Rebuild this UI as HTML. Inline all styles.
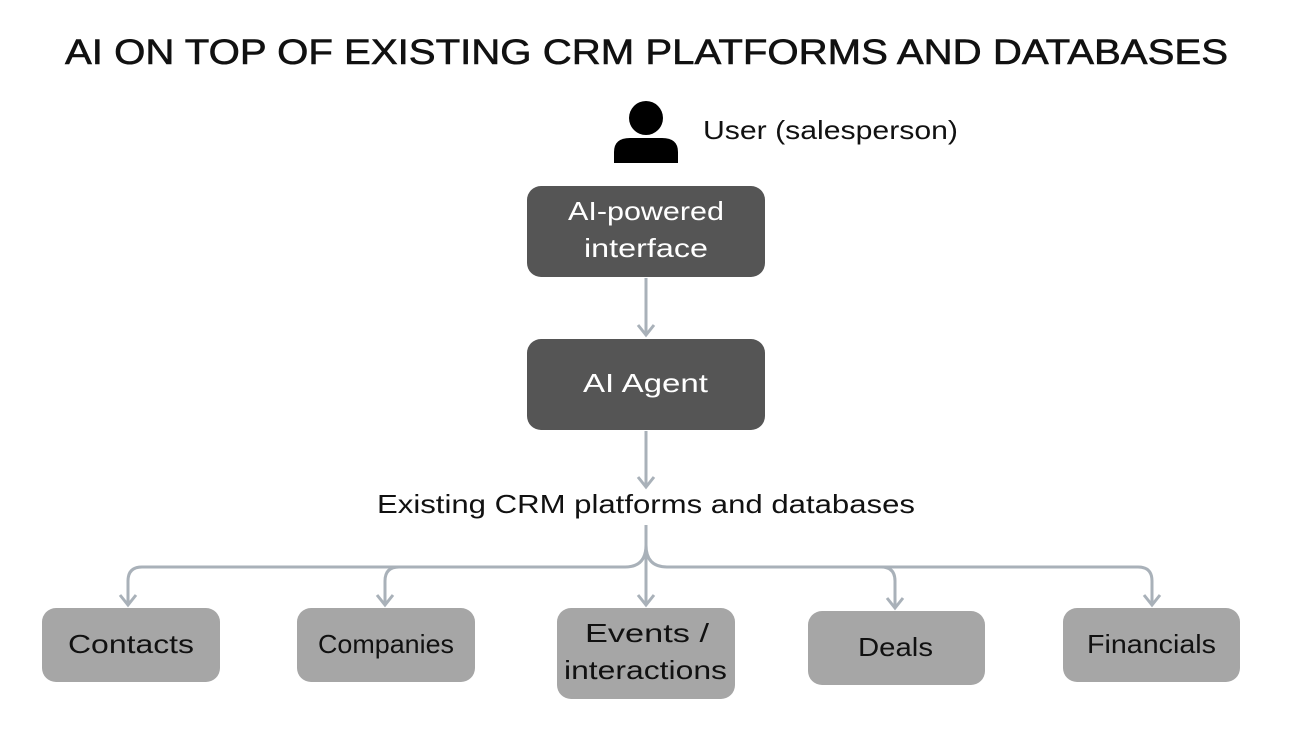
<!DOCTYPE html>
<html><head><meta charset="utf-8"><style>
html,body{margin:0;padding:0;background:#fff;}
svg{display:block;}
text{font-family:"Liberation Sans",sans-serif;}
</style></head><body>
<svg width="1292" height="738" viewBox="0 0 1292 738" xmlns="http://www.w3.org/2000/svg">
<text x="65" y="64" font-size="35" textLength="1163" lengthAdjust="spacingAndGlyphs" fill="#111" stroke="#111" stroke-width="0.6">AI ON TOP OF EXISTING CRM PLATFORMS AND DATABASES</text>
<!-- user icon -->
<circle cx="646" cy="118" r="17" fill="#000"/>
<path d="M614 163 L614 152 Q614 138 630 138 L662 138 Q678 138 678 152 L678 163 Z" fill="#000"/>
<text x="703" y="139" font-size="26" textLength="255" lengthAdjust="spacingAndGlyphs" fill="#111">User (salesperson)</text>
<!-- boxes -->
<rect x="527" y="186" width="238" height="91" rx="14" fill="#555"/>
<text x="568" y="220" font-size="26" fill="#fff" textLength="156" lengthAdjust="spacingAndGlyphs">AI-powered</text>
<text x="584" y="257" font-size="26" fill="#fff" textLength="124" lengthAdjust="spacingAndGlyphs">interface</text>
<rect x="527" y="339" width="238" height="91" rx="14" fill="#555"/>
<text x="583" y="392" font-size="26" fill="#fff" textLength="125" lengthAdjust="spacingAndGlyphs">AI Agent</text>
<g stroke="#a9b1b9" stroke-width="3" fill="none">
<line x1="646" y1="278" x2="646" y2="335"/>
<path d="M638 325 L646 335 L654 325"/>
<line x1="646" y1="431" x2="646" y2="487"/>
<path d="M638 477 L646 487 L654 477"/>
<line x1="646" y1="525" x2="646" y2="604"/>
<path d="M646 545 Q646 567 625 567 L142 567 Q128 567 128 581 L128 604"/>
<path d="M646 545 Q646 567 667 567 L1138 567 Q1152 567 1152 581 L1152 604"/>
<path d="M399 567 Q385 567 385 581 L385 604"/>
<path d="M881 567 Q895 567 895 581 L895 607"/>
<path d="M120 595 L128 605 L136 595"/>
<path d="M377 595 L385 605 L393 595"/>
<path d="M638 595 L646 605 L654 595"/>
<path d="M887 598 L895 608 L903 598"/>
<path d="M1144 595 L1152 605 L1160 595"/>
</g>
<text x="377" y="513" font-size="26" textLength="538" lengthAdjust="spacingAndGlyphs" fill="#111">Existing CRM platforms and databases</text>
<g fill="#a6a6a6">
<rect x="42" y="608" width="178" height="74" rx="14"/>
<rect x="297" y="608" width="178" height="74" rx="14"/>
<rect x="557" y="608" width="178" height="91" rx="14"/>
<rect x="808" y="611" width="177" height="74" rx="14"/>
<rect x="1063" y="608" width="177" height="74" rx="14"/>
</g>
<g font-size="26" fill="#111" lengthAdjust="spacingAndGlyphs">
<text x="68" y="653" textLength="126" lengthAdjust="spacingAndGlyphs">Contacts</text>
<text x="318" y="653" textLength="136" lengthAdjust="spacingAndGlyphs">Companies</text>
<text x="585" y="642" textLength="124" lengthAdjust="spacingAndGlyphs">Events /</text>
<text x="564" y="679" textLength="163" lengthAdjust="spacingAndGlyphs">interactions</text>
<text x="858" y="656" textLength="75" lengthAdjust="spacingAndGlyphs">Deals</text>
<text x="1087" y="653" textLength="129" lengthAdjust="spacingAndGlyphs">Financials</text>
</g>
</svg>
</body></html>
